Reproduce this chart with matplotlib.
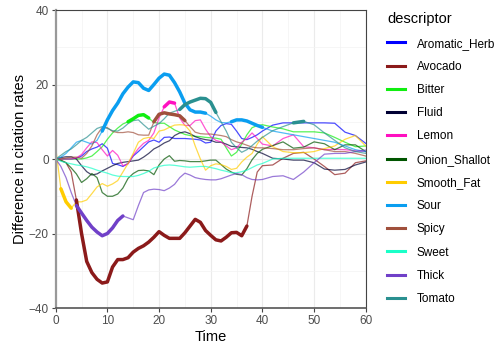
import numpy as np
import matplotlib
matplotlib.use("Agg")
import matplotlib.pyplot as plt
from matplotlib.lines import Line2D

plt.rcParams['font.family'] = ['Liberation Sans', 'DejaVu Sans']

# time grid: every second up to 39, then every 2 s
time = list(range(0, 40)) + list(range(40, 61, 2))

descriptors = ["Aromatic_Herb", "Avocado", "Bitter", "Fluid", "Lemon", "Onion_Shallot",
               "Smooth_Fat", "Sour", "Spicy", "Sweet", "Thick", "Tomato"]

aromatic_herb = [0, 0, 0, 0, 0.2, 0.8, 2, 2.7, 3.2, 4.1, 2.9, -1.2, -1.5, -2, -1.2, 0.8, 2, 3.3, 4.6, 5.1,
                 4.5, 5.8, 5.9, 5.5, 5.5, 5.5, 5.4, 5.3, 5.1, 4.3, 4.5, 7.5, 9, 9.5, 9.3, 7.5, 5.5, 5.2, 5.8, 6.5,
                 7.5, 9.1, 9.7, 9.7, 9.7, 9.7, 9.7, 9.6, 7.2, 6.3, 4.2]
avocado = [0, -0.3, -1, -3.5, -11, -20, -27.5, -30.5, -32.3, -33.3, -33, -29, -27, -27, -26.5, -25, -24, -23.3, -22.3, -21,
           -19.5, -20.5, -21.3, -21.3, -21.3, -19.8, -18, -16.2, -17, -19.2, -20.5, -21.7, -22, -21, -19.8, -19.7, -20.6, -18, -10, -3.5,
           -1.8, -1.6, 0.2, 1.5, 1.8, 0, -2, -4.2, -3.8, -1, -0.5]
bitter = [0, 0, 0, 0, 0, 0, 0.3, 0.8, 2, 3.3, 5.3, 7, 8.3, 9.4, 10, 10.8, 11.7, 11.9, 11, 9.8,
          9.6, 9.6, 8.7, 7.8, 7.2, 6.6, 6.3, 6.1, 6, 5.8, 5.7, 5.6, 5.3, 3, 0.8, 1.8, 4, 6.5, 8.4, 9,
          9.2, 8.6, 8.1, 7.3, 7.3, 7.3, 7, 5.8, 4.5, 3.3, 3.5]
fluid = [0, 0.4, 0.6, 0.6, 0, -1.8, -3.4, -4.3, -4, -3.2, -2.5, -1.8, -1.2, -0.9, -0.7, -0.5, -0.3, 0.5, 1.5, 2.7,
         3.4, 4.3, 4.9, 6.3, 7, 7.3, 6.8, 6, 5.5, 5.2, 5, 4.5, 4.5, 4, 3.4, 3.3, 3.1, 3, 2.6, 2,
         1.5, 0.2, 0, -0.3, -0.3, -1, -2.7, -3, -2.8, -1.6, -0.8]
lemon = [0, 0, 0, 0, 0.3, 1.2, 3, 4.6, 4.4, 2.5, 0.8, 2.3, 1, -1.8, -1.3, 1, 2.8, 4.2, 5, 7,
         11, 14, 15.3, 15, 11, 9, 9, 10.3, 10.5, 8, 6, 5, 4.6, 3.5, 2.5, 3, 4.5, 5.5, 7, 5.5,
         4, 3.5, 5.5, 6.5, 3.3, 3, 2.5, 2.6, 2.5, 2.2, 2]
onion_shallot = [0, -0.4, -1, -2.4, -4, -6.3, -5.3, -3.9, -5, -9, -10, -10, -9.4, -7.8, -5.2, -3.9, -3.1, -3, -3.2, -4.2,
                 -1.6, 0, 0.9, -0.6, -0.4, -0.5, -0.7, -0.7, -0.7, -0.5, -0.3, -0.3, -1.5, -2.7, -3.5, -4.1, -4.3, -2.6, -0.2, 1.5,
                 2.6, 3.6, 4.6, 2.9, 3.2, 4.6, 4.1, 2.5, 3.8, 3.8, 2]
smooth_fat = [3, -8, -11.5, -13.2, -11.5, -11.5, -11, -9.3, -7.5, -6.6, -7.3, -6.7, -5.8, -3.5, -1.2, 1.5, 4.5, 5.5, 5.8, 5.5,
              7.5, 7.8, 8.5, 9.1, 9.2, 9.1, 7.5, 3.5, 0, -3, -1.8, -1.3, -1.5, -2, -2.8, -2.5, -0.8, 0.5, 1.5, 4,
              6, 3.3, 2, 1.7, 1.7, 2, 2.8, 3.5, 5.3, 6.3, 3.5]
sour = [0, 0.5, 1.5, 3, 4.5, 5, 4.5, 4, 5, 7.5, 10.5, 13, 15, 17.5, 19.3, 20.7, 20.5, 19, 18.4, 20,
        21.7, 22.8, 22.5, 20.5, 18, 15, 13.2, 12.6, 12.6, 12.3, 11.5, 10.5, 9.8, 9.7, 10, 10.5, 10.5, 10.2, 9.6, 9,
        8.5, 7.5, 7, 6.5, 6, 5.5, 5, 4.5, 3.5, 2.5, 2]
spicy = [0, 0, 0.3, 0.5, 0.5, 0.2, 1.5, 3.5, 6.5, 8.5, 8.4, 7.4, 7.1, 7.1, 7.3, 7.1, 6.5, 6.4, 6.4, 10,
         12, 12.4, 12.1, 11.9, 11.6, 10.3, 8.7, 7.2, 6.8, 6.7, 6.7, 6.5, 6.3, 6, 5.2, 4.6, 4.2, 3.7, 3.2, 3,
         3, 2.8, 2.5, 2.5, 2.8, 3, 2.5, 2, 2, 1.5, 0.8]
sweet = [0, -0.6, -1, -1.3, -1.6, -1.8, -2.1, -2.5, -3, -3.4, -3.8, -4.3, -4.6, -4.7, -4.7, -4.7, -4.4, -3.9, -3.3, -2.4,
         -2, -1.7, -1.6, -1.7, -1.9, -2.1, -2.2, -2.1, -2, -2, -2.3, -2.6, -3, -3.3, -3.7, -3.7, -3.4, -3, -2.3, -1.6,
         -1.2, 0, 0.2, 0.2, 0.2, 0.2, 0.2, 0.2, 0.2, 0.2, 0.2]
thick = [0, -2, -5, -9, -12.5, -14.5, -16.5, -18.3, -19.6, -20.6, -20, -18.5, -16.5, -15.3, -15.8, -16.3, -12.5, -9, -8.3, -8.1,
         -8.2, -8.5, -7.8, -6.8, -5, -3.8, -4.3, -5, -5.3, -5.5, -5.6, -5.6, -5.3, -4.8, -4.3, -3.9, -4.2, -5, -5.5, -5.6,
         -5.5, -4.7, -4.5, -5.5, -3.5, -1, 1.3, 1.5, 1.5, 2, 2.4]
tomato = [0, 1, 2, 2.7, 3.8, 5, 5.8, 7, 8.2, 8.7, 8.2, 7.6, 7.5, 8.3, 9.5, 10.3, 10.5, 9.2, 8, 8.8,
          9.5, 10.8, 12.3, 12.8, 13.3, 14.6, 15.3, 15.8, 16.3, 16.2, 15.2, 12.5, 10, 7.5, 4.5, 3, 1.8, 2.5, 3.6, 4.8,
          5.8, 7.6, 8.7, 9.7, 10.1, 9.2, 7, 5, 3, 2, 1.5]

# periods where the difference is significant (drawn thick)
significant = {
    "Avocado": [(4, 37)],
    "Bitter": [(14, 18)],
    "Lemon": [(21, 23)],
    "Smooth_Fat": [(1, 3)],
    "Sour": [(9, 29), (34, 40)],
    "Spicy": [(19, 25)],
    "Thick": [(4, 13)],
    "Tomato": [(24, 31), (46, 48)],
}

colors = ["#0000FF", "#8B1A1A", "#11EE11", "#000033", "#FF10C0", "#005500",
          "#FFCC00", "#0A9EF0", "#A0503C", "#1AFFC8", "#7040C8", "#2A9090"]

series = [aromatic_herb, avocado, bitter, fluid, lemon, onion_shallot,
          smooth_fat, sour, spicy, sweet, thick, tomato]

fig = plt.figure(figsize=(5.01, 3.51), dpi=100)
ax = fig.add_axes([0.1112, 0.1225, 0.6188, 0.849])

t = np.array(time, dtype=float)
for name, ys, c in zip(descriptors, series, colors):
    ax.plot(t, ys, color=c, lw=0.9, alpha=0.7, zorder=2)
for name, ys, c in zip(descriptors, series, colors):
    y = np.array(ys, dtype=float)
    for a, b in significant.get(name, []):
        yy = np.where((t >= a) & (t <= b), y, np.nan)
        ax.plot(t, yy, color=c, lw=2.5, solid_capstyle='round', zorder=3)

ax.set_xlim(0, 60)
ax.set_ylim(-40, 40)
ax.set_xticks(range(0, 61, 10))
ax.set_yticks([-40, -20, 0, 20, 40])
ax.set_xticks(range(5, 60, 10), minor=True)
ax.set_yticks([-30, -10, 10, 30], minor=True)
ax.grid(which='major', color='#EBEBEB', lw=0.8)
ax.grid(which='minor', color='#F3F3F3', lw=0.5)
ax.set_axisbelow(True)
ax.tick_params(which='major', length=3, width=0.8, color='#444444', labelsize=8.5, labelcolor='#4D4D4D', pad=2)
ax.tick_params(which='minor', length=0)
for s in ['top', 'right']:
    ax.spines[s].set_color('#444444')
    ax.spines[s].set_linewidth(0.8)
ax.spines['left'].set_color('#999999')
ax.spines['left'].set_linewidth(1.6)
ax.spines['bottom'].set_color('#555555')
ax.spines['bottom'].set_linewidth(1.2)

ax.set_xlabel("Time", fontsize=10.5, labelpad=2)
ax.set_ylabel("Difference in citation rates", fontsize=10.5, labelpad=1)

handles = [Line2D([0], [0], color=c, lw=2.2) for c in colors]
leg = fig.legend(handles, descriptors, loc='upper left', bbox_to_anchor=(0.752, 0.995),
                 frameon=False, title="descriptor", fontsize=8.5, title_fontsize=10.5,
                 handlelength=1.5, handletextpad=1.0, labelspacing=0.95, alignment='left')

fig.savefig("out.png", dpi=100)
